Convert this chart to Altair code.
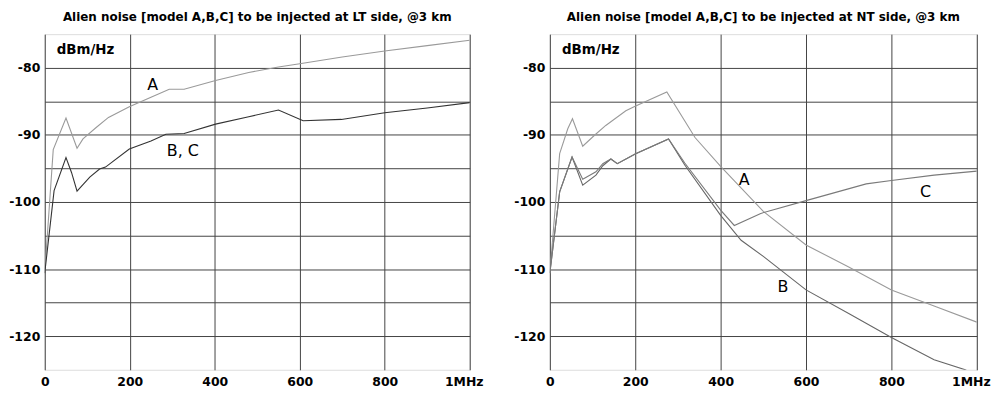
import altair as alt
import pandas as pd

# ---------------- LT side panel ----------------
lt_a_x = [0, 20, 50, 76, 90, 121, 150, 199, 250, 293, 328, 402, 480, 550, 600, 700, 800, 900, 1000]
lt_a_y = [-110.6, -92.2, -87.5, -92.0, -90.6, -88.9, -87.4, -85.8, -84.4, -83.2, -83.2, -81.9,
          -80.7, -79.9, -79.4, -78.4, -77.5, -76.7, -75.9]
lt_bc_x = [0, 22, 50, 63, 76, 106, 129, 143, 199, 250, 285, 328, 402, 480, 550, 608, 698, 800, 900, 1000]
lt_bc_y = [-110.6, -98.3, -93.4, -95.6, -98.4, -96.3, -95.1, -94.8, -92.1, -90.9, -89.9, -89.8,
           -88.4, -87.3, -86.3, -87.9, -87.7, -86.7, -86.0, -85.2]
lt_lbl_text = ["A", "B, C"]
lt_lbl_x = [254, 325]
lt_lbl_y = [-82.6, -92.4]

# ---------------- NT side panel ----------------
nt_a_x = [0, 23, 42, 53, 77, 104, 131, 178, 201, 274, 340, 400, 500, 600, 700, 800, 900, 1000]
nt_a_y = [-110.6, -92.8, -89.1, -87.6, -91.7, -90.1, -88.6, -86.4, -85.7, -83.6, -90.4, -94.7,
          -101.4, -106.4, -109.7, -113.1, -115.5, -117.9]
nt_b_x = [0, 23, 52, 77, 108, 124, 143, 158, 201, 278, 316, 400, 448, 500, 600, 700, 800, 900, 973, 1000]
nt_b_y = [-110.6, -98.5, -93.3, -97.5, -96.0, -94.6, -93.6, -94.3, -92.8, -90.6, -94.5, -102.0,
          -105.7, -108.1, -113.1, -116.6, -120.2, -123.5, -125.0, -125.9]
nt_c_x = [0, 23, 52, 77, 108, 124, 143, 158, 201, 278, 316, 400, 432, 494, 600, 741, 800, 900, 1000]
nt_c_y = [-110.6, -98.5, -93.3, -96.6, -95.5, -94.3, -93.6, -94.3, -92.8, -90.6, -94.2, -101.2,
          -103.5, -101.7, -99.8, -97.3, -96.8, -96.0, -95.4]
nt_lbl_text = ["A", "B", "C"]
nt_lbl_x = [455, 546, 880]
nt_lbl_y = [-96.7, -112.6, -98.5]

unit_text = ["dBm/Hz"]
unit_x = [96]
unit_y = [-77.4]

x_ticks = [0, 200, 400, 600, 800, 1000]
y_ticks = [-120, -115, -110, -105, -100, -95, -90, -85, -80]

titles = ["Alien noise [model A,B,C] to be injected at LT side, @3 km",
          "Alien noise [model A,B,C] to be injected at NT side, @3 km"]

FONT = "DejaVu Sans"
series_names = ["A", "B", "C", "B, C"]
series_colors = ["#9a9a9a", "#666666", "#7a7a7a", "#333333"]


def make_df(pairs):
    rows = []
    for name, xs, ys in pairs:
        for xv, yv in zip(xs, ys):
            rows.append({"f": xv, "v": yv, "s": name})
    return pd.DataFrame(rows)


x_axis = alt.Axis(values=x_ticks, grid=True, ticks=False, domain=False, title=None,
                  labelExpr="datum.value == 1000 ? '1MHz' : toString(datum.value)",
                  labelFont=FONT, labelFontWeight="bold", labelFontSize=12.5, labelColor="#000",
                  labelPadding=6, labelFlush=False,
                  labelOffset={"condition": {"test": "datum.value == 1000", "value": -6}, "value": 0},
                  gridColor="#444", gridWidth=1)
y_axis = alt.Axis(values=y_ticks, grid=True, ticks=False, domain=False, title=None,
                  labelExpr="datum.value % 10 == 0 ? toString(datum.value) : ''",
                  labelFont=FONT, labelFontWeight="bold", labelFontSize=12.5, labelColor="#000",
                  labelPadding=5, labelFlush=False,
                  gridColor="#444", gridWidth=1)


def panel(df, lbl_t, lbl_x, lbl_y, title, w):
    x = alt.X("f:Q", scale=alt.Scale(domain=[0, 1000], nice=False), axis=x_axis)
    y = alt.Y("v:Q", scale=alt.Scale(domain=[-125, -75], nice=False), axis=y_axis)
    lines = alt.Chart(df).mark_line(strokeWidth=1.1, clip=True).encode(
        x=x, y=y,
        color=alt.Color("s:N", scale=alt.Scale(domain=series_names, range=series_colors), legend=None),
        detail="s:N",
    )
    lbl = alt.Chart(pd.DataFrame({"t": lbl_t, "f": lbl_x, "v": lbl_y})).mark_text(
        font=FONT, fontSize=16, color="#000"
    ).encode(x="f:Q", y="v:Q", text="t:N")
    unit = alt.Chart(pd.DataFrame({"t": unit_text, "f": unit_x, "v": unit_y})).mark_text(
        font=FONT, fontSize=13.5, fontWeight="bold", color="#000"
    ).encode(x="f:Q", y="v:Q", text="t:N")
    return alt.layer(lines, lbl, unit).properties(
        width=w, height=338,
        title=alt.TitleParams(title, font=FONT, fontSize=12, fontWeight="bold", anchor="middle",
                              color="#000", offset=10),
    )


left = panel(make_df([("A", lt_a_x, lt_a_y), ("B, C", lt_bc_x, lt_bc_y)]),
             lt_lbl_text, lt_lbl_x, lt_lbl_y, titles[0], 428)
right = panel(make_df([("A", nt_a_x, nt_a_y), ("B", nt_b_x, nt_b_y), ("C", nt_c_x, nt_c_y)]),
              nt_lbl_text, nt_lbl_x, nt_lbl_y, titles[1], 430)

chart = alt.hconcat(left, right, spacing=80.7, bounds="flush").properties(
    padding={"left": 0, "top": 1, "right": 0, "bottom": 0}
).configure_view(stroke="#000", strokeWidth=1, strokeDash=[2, 1]).configure(background="#ffffff")

chart.save("out.html", embed_options={"renderer": "svg", "actions": False})
